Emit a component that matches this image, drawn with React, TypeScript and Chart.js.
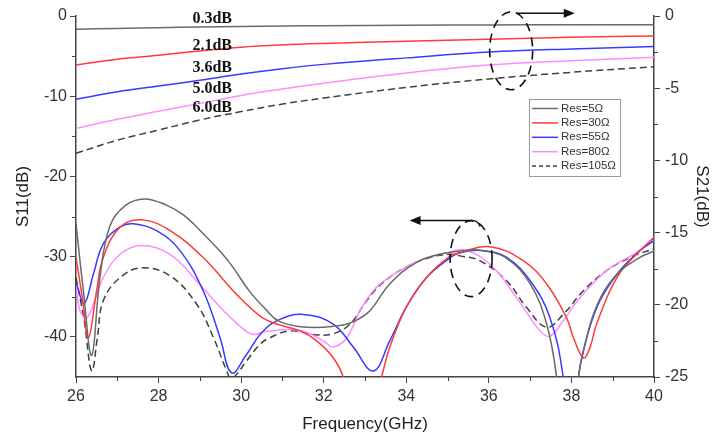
import React, { useEffect, useRef } from "react";
import { Chart, registerables } from "chart.js";
Chart.register(...registerables);

const FONT = '"Liberation Sans", Arial, sans-serif';

// Axes
const xTicks = [26, 28, 30, 32, 34, 36, 38, 40];
const xMinor = [27, 29, 31, 33, 35, 37, 39];
const s11Ticks = [-40, -30, -20, -10, 0];
const s11Minor = [-35, -25, -15, -5];
const s21Ticks = [-25, -20, -15, -10, -5, 0];
const s21Minor = [-22.5, -17.5, -12.5, -7.5, -2.5];

const seriesNames = ["Res=5Ω", "Res=30Ω", "Res=55Ω", "Res=80Ω", "Res=105Ω"];

// S21 (right axis)
const s21Freq = [26, 27, 28, 29, 30, 31, 32, 34, 36, 38, 40];
const s21Res5 = [-0.92, -0.86, -0.81, -0.76, -0.72, -0.69, -0.67, -0.64, -0.62, -0.61, -0.6];
const s21Res30 = [-3.39, -3.0, -2.72, -2.42, -2.16, -2.0, -1.9, -1.75, -1.61, -1.48, -1.38];
const s21Res55 = [-5.77, -5.25, -4.85, -4.45, -4.02, -3.65, -3.35, -2.9, -2.5, -2.28, -2.12];
const s21Res80 = [-7.78, -7.15, -6.6, -6.05, -5.5, -5.05, -4.65, -3.95, -3.4, -3.1, -2.86];
const s21Res105 = [-9.51, -8.6, -7.9, -7.2, -6.62, -6.1, -5.68, -4.95, -4.36, -3.9, -3.51];

// S11 (left axis)
const s11Res5Freq = [26.0, 26.18, 26.38, 26.58, 26.82, 27.2, 27.67, 28.2, 28.6, 29.0, 29.5, 29.8, 30.2, 30.6, 30.9, 31.4, 32.0, 32.5, 32.8, 33.12, 33.6, 34.25, 34.9, 35.5, 35.8, 36.4, 37.0, 37.4, 37.64, 37.9, 38.17, 38.29, 38.6, 39.1, 39.66, 40.0];
const s11Res5 = [-25.9, -34.3, -42.3, -32.6, -26.2, -23.6, -22.8, -23.6, -24.8, -26.7, -29.4, -31.3, -34.3, -36.6, -38.0, -38.7, -38.8, -38.5, -37.9, -36.75, -33.4, -30.7, -29.6, -29.2, -29.2, -30.1, -33.4, -38.4, -45, -58, -45, -41.8, -36.3, -32.2, -30.1, -29.3];

const s11Res30Freq = [26.0, 26.15, 26.3, 26.5, 26.66, 27.07, 27.59, 28.28, 29.08, 29.89, 30.46, 30.86, 31.43, 31.83, 32.23, 32.47, 32.9, 33.4, 33.6, 34.0, 34.49, 35.02, 35.3, 36.03, 36.83, 37.4, 37.88, 38.05, 38.29, 38.45, 38.61, 39.1, 39.66, 40.0];
const s11Res30 = [-30.1, -35.0, -40.1, -34.25, -30.1, -26.3, -25.4, -26.75, -30.1, -34.7, -37.4, -38.4, -39.25, -40.5, -42.6, -45, -54, -45, -41.3, -36.3, -32.6, -30.1, -29.5, -28.75, -30.5, -33.4, -37.6, -40.1, -42.6, -41.3, -38.4, -32.6, -29.25, -27.6];

const s11Res55Freq = [26.0, 26.2, 26.42, 26.66, 27.07, 27.39, 27.95, 28.52, 29.08, 29.49, 29.77, 30.13, 30.46, 30.86, 31.5, 32.23, 32.72, 33.2, 33.6, 34.0, 34.49, 35.02, 35.3, 35.86, 36.43, 37.0, 37.48, 37.8, 38.0, 38.17, 38.37, 38.69, 39.17, 39.66, 40.0];
const s11Res55 = [-33.2, -35.8, -32.2, -28.4, -26.3, -25.9, -26.75, -29.25, -34.25, -40.1, -44.5, -42.2, -39.7, -38.0, -37.2, -38.4, -41.3, -44.25, -40.5, -36.3, -32.6, -30.3, -29.5, -29.25, -30.1, -33.0, -37.6, -45, -56, -45, -40.1, -35.5, -31.75, -29.25, -28.0];

const s11Res80Freq = [26.0, 26.1, 26.26, 26.45, 26.66, 27.07, 27.59, 28.28, 28.92, 29.49, 30.05, 30.29, 30.62, 31.43, 31.99, 32.23, 32.56, 32.88, 33.28, 33.85, 34.41, 34.98, 35.46, 36.1, 36.67, 37.24, 37.48, 37.8, 38.21, 38.85, 39.5, 40.0];
const s11Res80 = [-33.6, -36.8, -37.6, -35.5, -32.6, -29.7, -28.6, -29.7, -33.0, -36.3, -39.0, -39.7, -39.3, -39.2, -40.5, -41.25, -40.1, -36.75, -33.8, -31.75, -30.3, -29.5, -29.2, -31.3, -35.1, -39.25, -39.9, -38.0, -35.1, -31.75, -29.7, -28.0];

const s11Res105Freq = [26.0, 26.2, 26.38, 26.52, 26.66, 27.07, 27.59, 28.28, 28.92, 29.33, 29.65, 29.75, 29.9, 30.13, 30.46, 30.7, 31.18, 31.83, 32.23, 32.64, 33.04, 33.44, 34.0, 34.57, 35.06, 35.3, 35.78, 36.43, 36.91, 37.4, 37.8, 38.29, 38.85, 39.42, 40.0];
const s11Res105 = [-32.6, -38.0, -44.25, -40.0, -35.5, -32.6, -31.4, -32.4, -35.9, -40.1, -44.25, -45.2, -44.6, -43.0, -40.9, -40.1, -39.25, -39.75, -39.6, -38.4, -35.5, -33.2, -31.3, -30.1, -29.7, -29.9, -30.5, -33.0, -36.3, -38.8, -37.2, -34.25, -31.75, -30.1, -29.0];

// Annotations (data units)
const s21LabelText = ["0.3dB", "2.1dB", "3.6dB", "5.0dB", "6.0dB"];
const s21LabelFreq = 29.3;
const s21LabelLevel = [-0.2, -2.06, -3.62, -5.08, -6.39];
const s21Marker = { freq: 36.54, level: -2.41 };
const s21ArrowFreq = [36.66, 38.08];
const s21ArrowLevel = 0.19;
const s11Marker = { freq: 35.57, level: -30.25 };
const s11ArrowFreq = [35.69, 34.08];
const s11ArrowLevel = -25.5;

const colors = ["#6a6a6a", "#ff3a3a", "#3a3aff", "#ff8cff", "#404040"];
const dashes: number[][] = [[], [], [], [], [7, 4]];

const pts = (f: number[], v: number[]) => f.map((x, i) => ({ x, y: v[i] }));

const decoPlugin = {
  id: "deco",
  afterDraw(chart: any) {
    const { ctx, chartArea: ca } = chart;
    const sx = chart.scales.x;
    const sy = chart.scales.y;
    const sy1 = chart.scales.y1;
    ctx.save();
    // minor ticks
    ctx.strokeStyle = "#444";
    ctx.lineWidth = 1;
    ctx.setLineDash([]);
    ctx.beginPath();
    xMinor.forEach((v) => {
      const px = Math.round(sx.getPixelForValue(v)) + 0.5;
      ctx.moveTo(px, ca.bottom);
      ctx.lineTo(px, ca.bottom + 4);
    });
    s11Minor.forEach((v) => {
      const py = Math.round(sy.getPixelForValue(v)) + 0.5;
      ctx.moveTo(ca.left - 4, py);
      ctx.lineTo(ca.left, py);
    });
    s21Minor.forEach((v) => {
      const py = Math.round(sy1.getPixelForValue(v)) + 0.5;
      ctx.moveTo(ca.right, py);
      ctx.lineTo(ca.right + 4, py);
    });
    ctx.stroke();

    // dB labels
    ctx.fillStyle = "#111";
    ctx.font = 'bold 16px "Liberation Serif", "Times New Roman", serif';
    ctx.textAlign = "center";
    ctx.textBaseline = "middle";
    s21LabelText.forEach((t, i) => {
      ctx.fillText(t, sx.getPixelForValue(s21LabelFreq), sy1.getPixelForValue(s21LabelLevel[i]));
    });

    // dashed ellipses
    ctx.strokeStyle = "#111";
    ctx.lineWidth = 1.6;
    ctx.setLineDash([9, 6]);
    ctx.beginPath();
    ctx.ellipse(sx.getPixelForValue(s21Marker.freq), sy1.getPixelForValue(s21Marker.level), 21.5, 39, 0, 0, Math.PI * 2);
    ctx.stroke();
    ctx.beginPath();
    ctx.ellipse(sx.getPixelForValue(s11Marker.freq), sy.getPixelForValue(s11Marker.level), 21, 38, 0, 0, Math.PI * 2);
    ctx.stroke();

    // arrows
    ctx.setLineDash([]);
    ctx.lineWidth = 1.5;
    const arrow = (x0: number, x1: number, y: number, hook: boolean) => {
      const dir = Math.sign(x1 - x0);
      ctx.beginPath();
      if (hook) {
        ctx.moveTo(x0 + 4, y + 6);
        ctx.quadraticCurveTo(x0 + 2, y, x0 - 4, y);
      } else {
        ctx.moveTo(x0, y);
      }
      ctx.lineTo(x1 - dir * 8, y);
      ctx.stroke();
      ctx.beginPath();
      ctx.moveTo(x1, y);
      ctx.lineTo(x1 - dir * 11, y - 4.5);
      ctx.lineTo(x1 - dir * 11, y + 4.5);
      ctx.closePath();
      ctx.fill();
    };
    arrow(sx.getPixelForValue(s21ArrowFreq[0]), sx.getPixelForValue(s21ArrowFreq[1]), sy1.getPixelForValue(s21ArrowLevel), false);
    arrow(sx.getPixelForValue(s11ArrowFreq[0]), sx.getPixelForValue(s11ArrowFreq[1]), sy.getPixelForValue(s11ArrowLevel), true);

    // legend
    const lx = ca.right - 125;
    const ly = ca.top + 83;
    ctx.strokeStyle = "#9a9a9a";
    ctx.lineWidth = 1;
    ctx.strokeRect(Math.round(lx) + 0.5, Math.round(ly) + 0.5, 91, 77);
    ctx.font = `11.5px ${FONT}`;
    ctx.textAlign = "left";
    ctx.textBaseline = "middle";
    seriesNames.forEach((n, i) => {
      const y = ly + 9.5 + i * 14.4;
      ctx.strokeStyle = colors[i];
      ctx.lineWidth = 1.5;
      ctx.setLineDash(i === 4 ? [4, 3] : []);
      ctx.beginPath();
      ctx.moveTo(lx + 3, y);
      ctx.lineTo(lx + 29, y);
      ctx.stroke();
      ctx.fillStyle = "#333";
      ctx.fillText(n, lx + 32, y);
    });
    ctx.restore();
  },
};

export default function App() {
  const ref = useRef<HTMLCanvasElement | null>(null);
  useEffect(() => {
    document.body.style.margin = "0";
    if (!ref.current) return;
    const s11 = [
      pts(s11Res5Freq, s11Res5),
      pts(s11Res30Freq, s11Res30),
      pts(s11Res55Freq, s11Res55),
      pts(s11Res80Freq, s11Res80),
      pts(s11Res105Freq, s11Res105),
    ];
    const s21 = [s21Res5, s21Res30, s21Res55, s21Res80, s21Res105].map((v) => pts(s21Freq, v));
    const mk = (data: any, i: number, axis: string) => ({
      label: seriesNames[i],
      data,
      yAxisID: axis,
      borderColor: colors[i],
      borderWidth: 1.5,
      borderDash: dashes[i],
      pointRadius: 0,
      fill: false,
      tension: 0.4,
    });
    const datasets = [
      ...s21.map((d, i) => mk(d, i, "y1")),
      ...s11.map((d, i) => mk(d, i, "y")),
    ];
    const axisColor = "#444";
    const tickFont = { family: FONT, size: 16 };
    const titleFont = { family: FONT, size: 17 };
    const chart = new Chart(ref.current, {
      type: "line",
      data: { datasets },
      plugins: [decoPlugin],
      options: {
        animation: false,
        responsive: false,
        layout: { padding: { top: 16, left: 0, right: 0, bottom: 0 } },
        plugins: { legend: { display: false }, tooltip: { enabled: false } },
        scales: {
          x: {
            type: "linear",
            position: "bottom",
            min: 26,
            max: 40,
            afterBuildTicks: (s: any) => {
              s.ticks = xTicks.map((v) => ({ value: v }));
            },
            afterFit: (s: any) => {
              s.height = 60;
            },
            grid: { display: true, drawOnChartArea: false, drawTicks: true, tickLength: 6, color: axisColor },
            border: { display: true, color: axisColor, width: 1.5 },
            ticks: { color: "#333", font: tickFont, padding: 4, maxRotation: 0, autoSkip: false },
            title: { display: true, text: "Frequency(GHz)", color: "#222", font: titleFont, padding: { top: 0, bottom: 2 } },
          },
          y: {
            type: "linear",
            position: "left",
            min: -45,
            max: 0,
            afterBuildTicks: (s: any) => {
              s.ticks = s11Ticks.map((v) => ({ value: v }));
            },
            afterFit: (s: any) => {
              s.width = 76;
            },
            grid: { display: true, drawOnChartArea: false, drawTicks: true, tickLength: 6, color: axisColor },
            border: { display: true, color: axisColor, width: 1.5 },
            ticks: { color: "#333", font: tickFont, padding: 3 },
            title: { display: true, text: "S11(dB)", color: "#222", font: titleFont, padding: { top: 13, bottom: 0 } },
          },
          y1: {
            type: "linear",
            position: "right",
            min: -25,
            max: 0,
            afterBuildTicks: (s: any) => {
              s.ticks = s21Ticks.map((v) => ({ value: v }));
            },
            afterFit: (s: any) => {
              s.width = 59;
            },
            grid: { display: true, drawOnChartArea: false, drawTicks: true, tickLength: 6, color: axisColor },
            border: { display: true, color: axisColor, width: 1.5 },
            ticks: { color: "#333", font: tickFont, padding: 5 },
            title: { display: true, text: "S21(dB)", color: "#222", font: titleFont, padding: { top: 1, bottom: 0 } },
          },
        },
      },
    } as any);
    return () => chart.destroy();
  }, []);
  return (
    <div style={{ width: 713, height: 437, background: "#fff" }}>
      <canvas ref={ref} width={713} height={437} />
    </div>
  );
}
